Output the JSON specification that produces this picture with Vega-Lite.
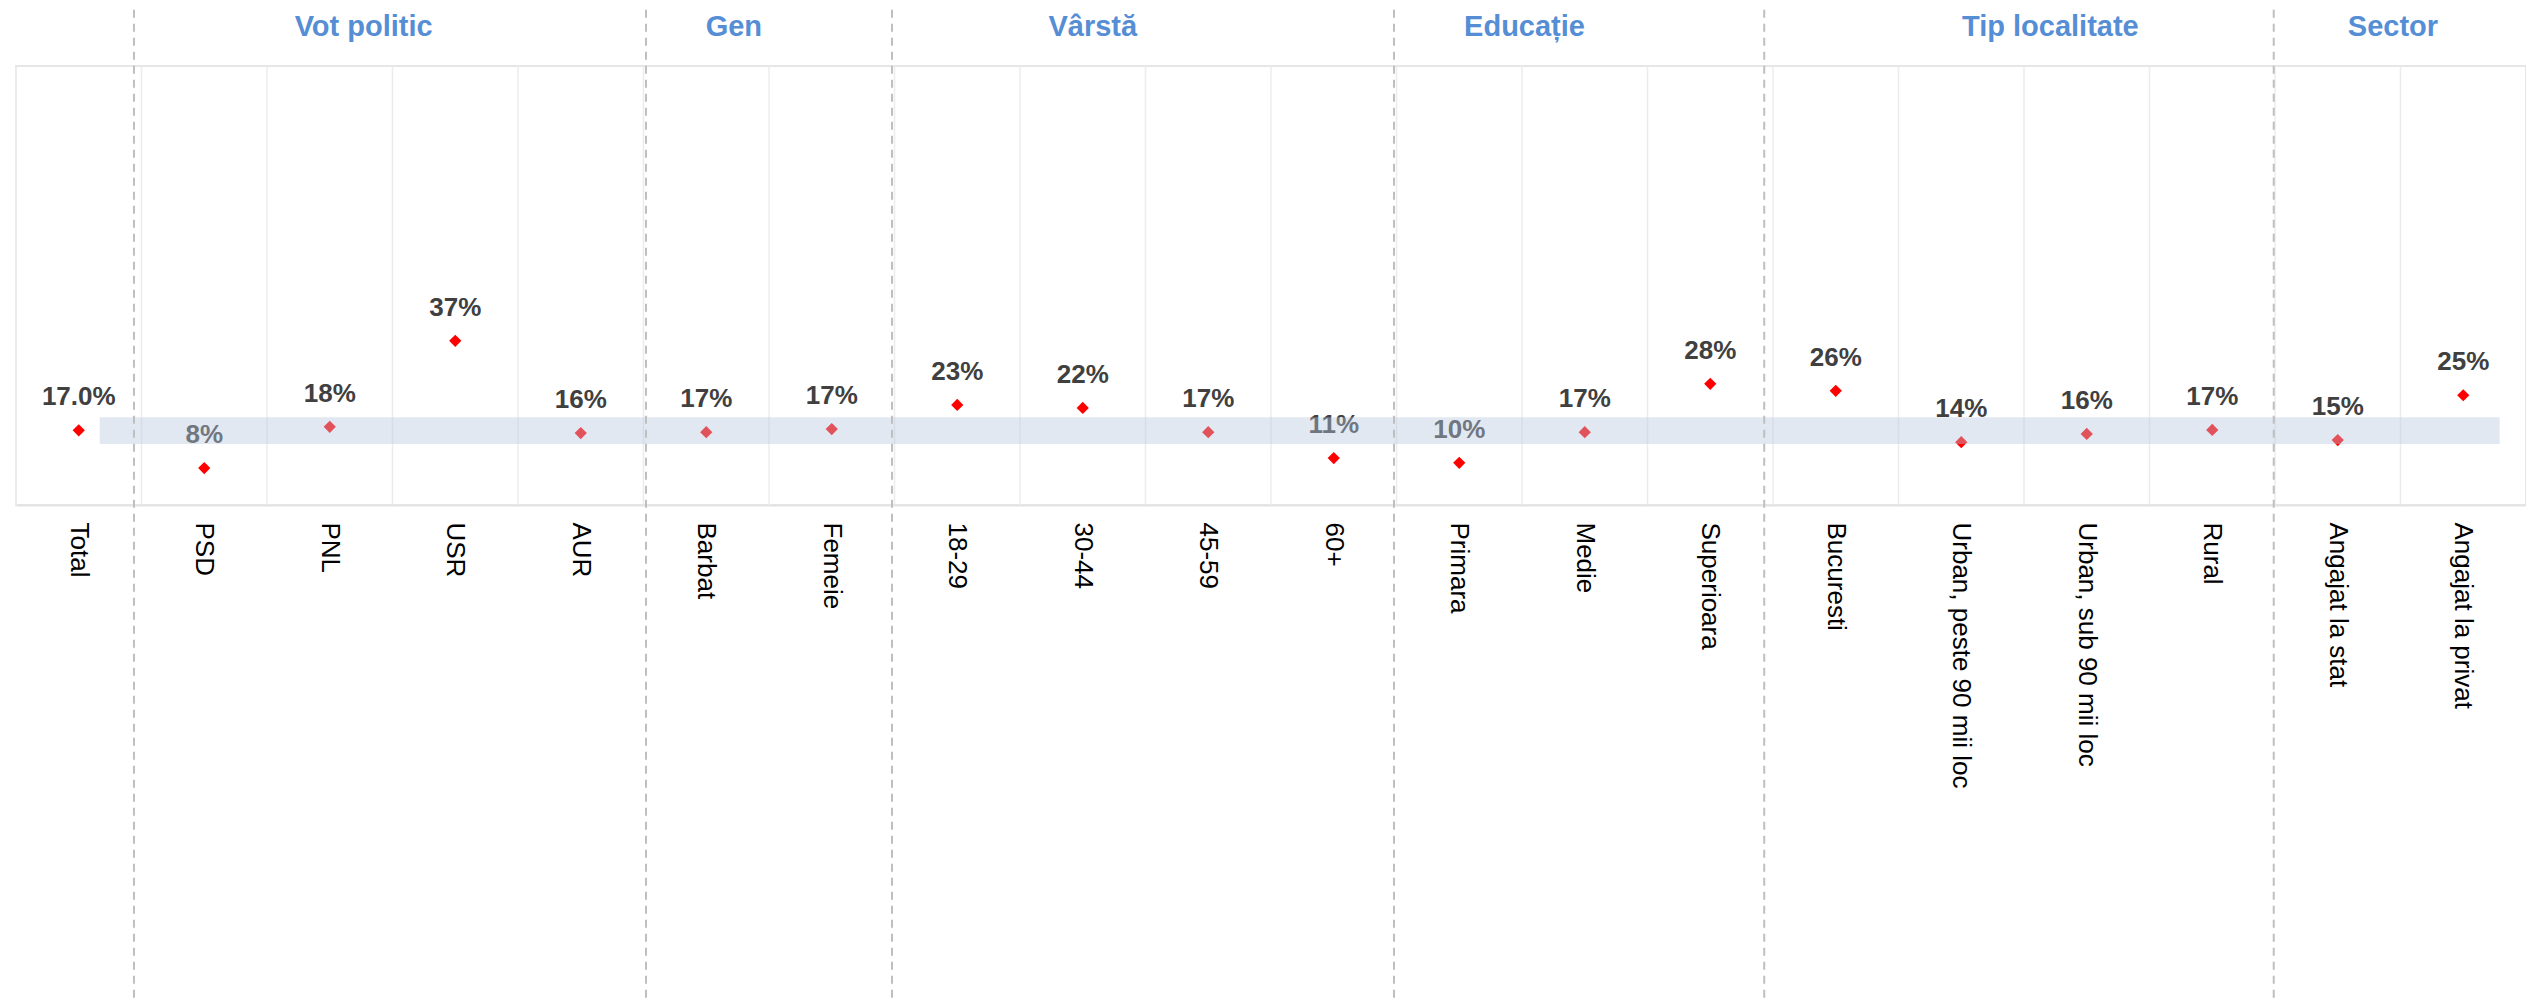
{
  "$schema": "https://vega.github.io/schema/vega-lite/v6.json",
  "width": 2510,
  "height": 439,
  "autosize": "none",
  "padding": {"left": 16, "top": 66, "right": 0, "bottom": 497},
  "background": "white",
  "config": {
    "view": {"stroke": "#e6e6e6", "strokeWidth": 2},
    "font": "Liberation Sans"
  },
  "datasets": {
    "points": [
      {"cat": "Total", "value": 17.0, "label": "17.0%"},
      {"cat": "PSD", "value": 8.4, "label": "8%"},
      {"cat": "PNL", "value": 17.8, "label": "18%"},
      {"cat": "USR", "value": 37.4, "label": "37%"},
      {"cat": "AUR", "value": 16.4, "label": "16%"},
      {"cat": "Barbat", "value": 16.6, "label": "17%"},
      {"cat": "Femeie", "value": 17.3, "label": "17%"},
      {"cat": "18-29", "value": 22.8, "label": "23%"},
      {"cat": "30-44", "value": 22.1, "label": "22%"},
      {"cat": "45-59", "value": 16.6, "label": "17%"},
      {"cat": "60+", "value": 10.7, "label": "11%"},
      {"cat": "Primara", "value": 9.6, "label": "10%"},
      {"cat": "Medie", "value": 16.6, "label": "17%"},
      {"cat": "Superioara", "value": 27.6, "label": "28%"},
      {"cat": "Bucuresti", "value": 26.0, "label": "26%"},
      {"cat": "Urban, peste 90 mii loc", "value": 14.3, "label": "14%"},
      {"cat": "Urban, sub 90 mii loc", "value": 16.2, "label": "16%"},
      {"cat": "Rural", "value": 17.1, "label": "17%"},
      {"cat": "Angajat la stat", "value": 14.8, "label": "15%"},
      {"cat": "Angajat la privat", "value": 25.0, "label": "25%"}
    ],
    "headers": [
      {"group": "Vot politic", "pos": 2.77},
      {"group": "Gen", "pos": 5.72},
      {"group": "Vârstă", "pos": 8.58},
      {"group": "Educație", "pos": 12.02},
      {"group": "Tip localitate", "pos": 16.21},
      {"group": "Sector", "pos": 18.94}
    ],
    "dividers": [
      {"pos": 0.94}, {"pos": 5.02}, {"pos": 6.98}, {"pos": 10.98}, {"pos": 13.93}, {"pos": 17.99}
    ],
    "band": [
      {"x0": 0.667, "x1": 19.79, "lo": 13.9, "hi": 20.0}
    ]
  },
  "layer": [
    {
      "data": {"name": "points"},
      "encoding": {
        "x": {
          "field": "cat",
          "type": "nominal",
          "sort": null,
          "scale": {"paddingInner": 0, "paddingOuter": 0},
          "axis": {
            "title": null,
            "labelAngle": 90,
            "labelFontSize": 26,
            "labelColor": "#000000",
            "labelFont": "Liberation Sans",
            "ticks": false,
            "domainColor": "#e3e3e3",
            "domainWidth": 2,
            "labelPadding": 17,
            "grid": false,
            "labelLimit": 0
          }
        }
      },
      "layer": [
        {
          "mark": {"type": "rule", "color": "#ececec", "strokeWidth": 1.5},
          "encoding": {
            "x": {"field": "cat", "type": "nominal", "sort": null, "bandPosition": 0},
            "y": {"datum": 0, "type": "quantitative", "scale": {"domain": [0, 100], "nice": false}, "axis": null},
            "y2": {"datum": 100}
          }
        },
        {
          "mark": {"type": "point", "shape": "diamond", "filled": true, "color": "#ff0000", "size": 150, "opacity": 1},
          "encoding": {
            "y": {"field": "value", "type": "quantitative", "scale": {"domain": [0, 100], "nice": false}, "axis": null}
          }
        },
        {
          "mark": {"type": "text", "fontSize": 26, "fontWeight": "bold", "color": "#404040", "baseline": "alphabetic", "dy": -25, "font": "Liberation Sans"},
          "encoding": {
            "y": {"field": "value", "type": "quantitative", "scale": {"domain": [0, 100], "nice": false}, "axis": null},
            "text": {"field": "label", "type": "nominal"}
          }
        }
      ]
    },
    {
      "layer": [
        {
          "data": {"name": "band"},
          "mark": {"type": "rect", "color": "#b6c8dd", "opacity": 0.41},
          "encoding": {
            "x": {"field": "x0", "type": "quantitative", "scale": {"domain": [0, 20], "nice": false, "zero": false}, "axis": null},
            "x2": {"field": "x1"},
            "y": {"field": "lo", "type": "quantitative", "scale": {"domain": [0, 100], "nice": false}, "axis": null},
            "y2": {"field": "hi"}
          }
        },
        {
          "data": {"name": "dividers"},
          "mark": {"type": "rule", "color": "#bfbfbf", "strokeWidth": 2, "strokeDash": [8, 6]},
          "encoding": {
            "x": {"field": "pos", "type": "quantitative", "scale": {"domain": [0, 20], "nice": false, "zero": false}, "axis": null},
            "y": {"datum": 112.8, "type": "quantitative", "scale": {"domain": [0, 100], "nice": false}, "axis": null},
            "y2": {"datum": -113.5}
          }
        },
        {
          "data": {"name": "headers"},
          "mark": {"type": "text", "fontSize": 29, "fontWeight": "bold", "color": "#558ed5", "baseline": "alphabetic", "align": "center", "font": "Liberation Sans"},
          "encoding": {
            "x": {"field": "pos", "type": "quantitative", "scale": {"domain": [0, 20], "nice": false, "zero": false}, "axis": null},
            "y": {"datum": 106.8, "type": "quantitative", "scale": {"domain": [0, 100], "nice": false}, "axis": null},
            "text": {"field": "group", "type": "nominal"}
          }
        }
      ]
    }
  ],
  "resolve": {"scale": {"x": "independent"}}
}
